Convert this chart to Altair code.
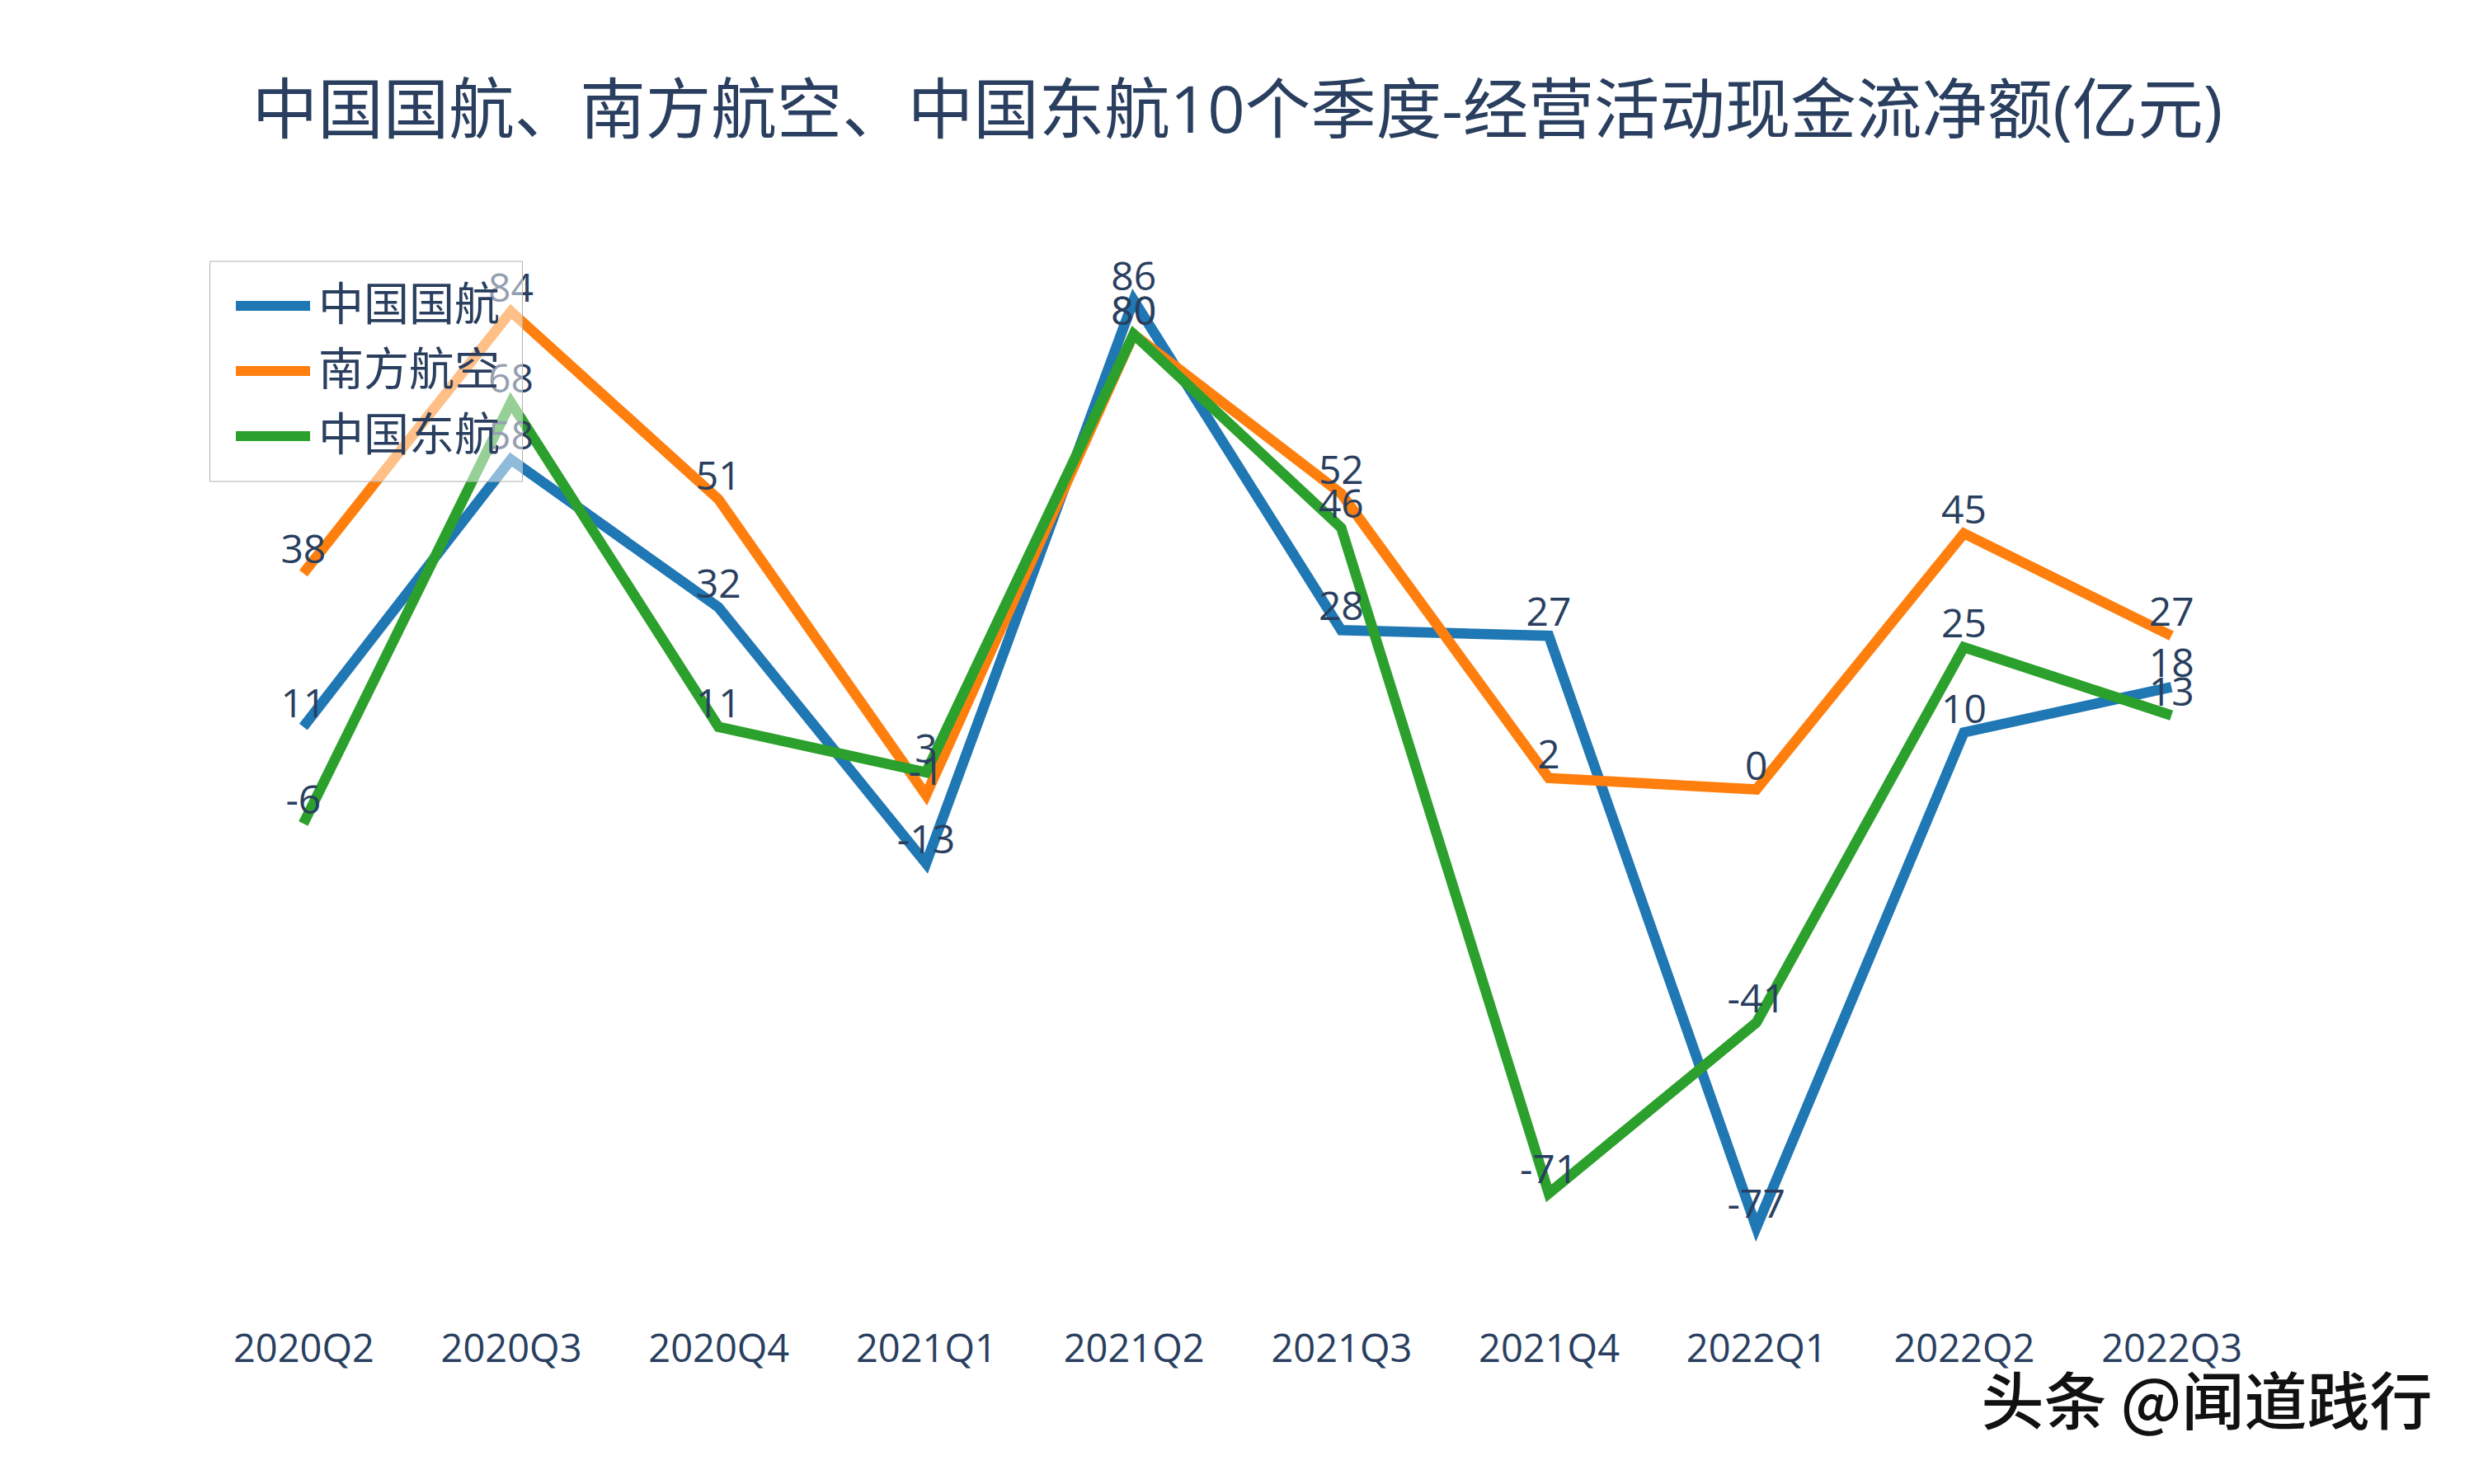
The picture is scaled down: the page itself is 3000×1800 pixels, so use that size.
import altair as alt
import pandas as pd

quarters = ["2020Q2", "2020Q3", "2020Q4", "2021Q1", "2021Q2",
            "2021Q3", "2021Q4", "2022Q1", "2022Q2", "2022Q3"]
air_china = [11, 58, 32, -13, 86, 28, 27, -77, 10, 18]
china_southern = [38, 84, 51, -1, 80, 52, 2, 0, 45, 27]
china_eastern = [-6, 68, 11, 3, 80, 46, -71, -41, 25, 13]
series_names = ["中国国航", "南方航空", "中国东航"]
series_colors = ["#1f77b4", "#ff7f0e", "#2ca02c"]
title_text = "中国国航、南方航空、中国东航10个季度-经营活动现金流净额(亿元)"
watermark = ["头条 @闻道践行"]

rows = []
for name, vals in zip(series_names, [air_china, china_southern, china_eastern]):
    for q, v in zip(quarters, vals):
        rows.append({"quarter": q, "value": v, "company": name, "label": str(v)})
df = pd.DataFrame(rows)

FONT = "Open Sans, Noto Sans CJK SC"
TXT = "#2a3f5f"

x = alt.X("quarter:N", sort=quarters,
          scale=alt.Scale(type="point", padding=0.5),
          axis=alt.Axis(title=None, domain=False, ticks=False, grid=False,
                        labelAngle=0, labelFontSize=47, labelFont=FONT,
                        labelColor=TXT, labelPadding=36))
y = alt.Y("value:Q", scale=alt.Scale(domain=[-90, 100], nice=False, zero=False),
          axis=None)
color = alt.Color("company:N",
                  scale=alt.Scale(domain=series_names, range=series_colors),
                  legend=alt.Legend(orient="none", legendX=12, legendY=49,
                                    title=None, symbolType="M-1,0H3",
                                    symbolSize=2025, symbolStrokeWidth=12,
                                    labelFontSize=55, labelFont=FONT,
                                    labelColor=TXT, labelOffset=49,
                                    labelLimit=0,
                                    padding=26, rowPadding=22,
                                    fillColor="rgba(255,255,255,0.5)",
                                    strokeColor="#b0b0b0"))

lines = alt.Chart(df).mark_line(strokeWidth=12.5).encode(x=x, y=y, color=color)
labels = alt.Chart(df).mark_text(dy=-12, baseline="alphabetic", align="center",
                                 fontSize=48, font=FONT, color=TXT).encode(
    x=x, y=y, text="label:N")
wm = alt.Chart(pd.DataFrame({"t": watermark})).mark_text(
    fontSize=76, font="Noto Sans CJK SC", fontWeight=500, color="#111111",
    align="center", baseline="middle").encode(
    x=alt.value(2434), y=alt.value(1437), text="t:N")

chart = alt.layer(lines, labels, wm).properties(
    width=2517, height=1311,
    title=alt.TitleParams(title_text, fontSize=79.5, font=FONT, color=TXT,
                          fontWeight="normal", anchor="middle", offset=90),
    autosize="none",
    padding={"left": 234, "top": 259.5, "right": 230, "bottom": 200},
    background="white",
).configure_view(stroke=None)

chart.save("out.html", embed_options={"renderer": "svg", "actions": False})
